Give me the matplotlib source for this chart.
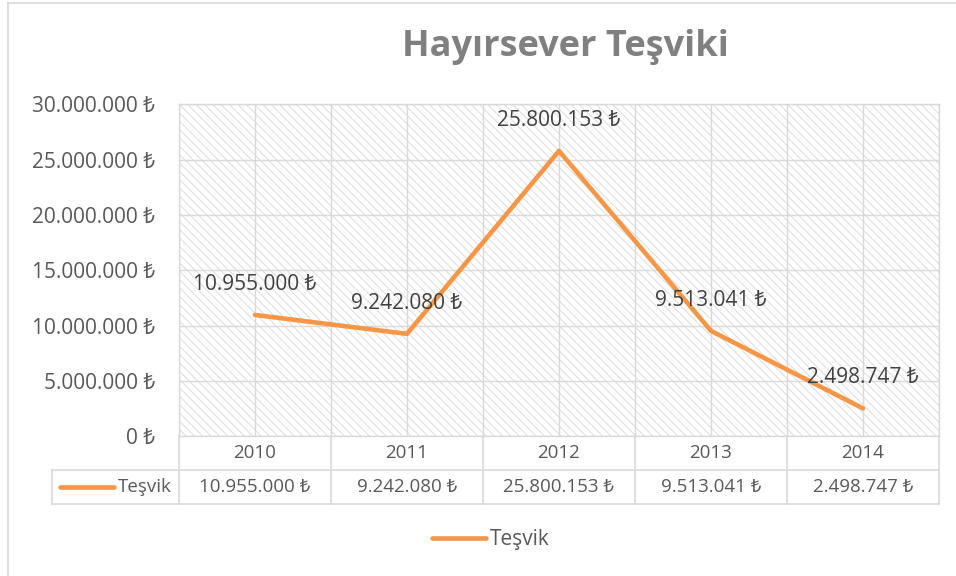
import matplotlib
matplotlib.use('Agg')
import matplotlib.pyplot as plt
import matplotlib.transforms as mtransforms
from matplotlib.patches import Rectangle
from matplotlib.lines import Line2D
import numpy as np

# ---- data ----
years = ['2010', '2011', '2012', '2013', '2014']
values = [10955000, 9242080, 25800153, 9513041, 2498747]
series_name = 'Teşvik'
title = 'Hayırsever Teşviki'
y_ticks = [0, 5000000, 10000000, 15000000, 20000000, 25000000, 30000000]


def tl(v):
    return f'{int(v):,}'.replace(',', '.') + ' ₺'


plt.rcParams['font.family'] = ['Open Sans', 'Noto Sans', 'DejaVu Sans']
plt.rcParams['hatch.linewidth'] = 0.7

W, H = 956, 576
fig = plt.figure(figsize=(W / 100, H / 100), dpi=100)
L, R, T, B = 179, 939, 104.5, 436
ax = fig.add_axes([L / W, 1 - B / H, (R - L) / W, (B - T) / H])

GRID = '#d9d9d9'
ORANGE = '#F79646'

ax.set_facecolor('none')
hatch = Rectangle((0, 0), 1, 1, transform=ax.transAxes, facecolor='white',
                  edgecolor='#dcdcdc', hatch='\\' * 4, lw=0, zorder=0.1)
ax.add_patch(hatch)

x = np.arange(len(years))
line, = ax.plot(x, values, color=ORANGE, lw=3.3, solid_capstyle='round',
                zorder=3, label=series_name)

for xi, v in zip(x, values):
    ax.annotate(tl(v), (xi, v), xytext=(0, 22), textcoords='offset points',
                ha='center', va='center', fontsize=15, color='#404040', zorder=4)

ax.set_xlim(-0.5, len(years) - 0.5)
ax.set_ylim(0, 30000000)
ax.set_xticks(np.arange(-0.5, len(years) - 0.4, 0.5))
ax.set_xticklabels([])
ax.set_yticks(y_ticks)
ax.set_yticklabels([tl(v) for v in y_ticks])
ax.tick_params(axis='both', length=0)
ax.tick_params(axis='y', pad=17, labelsize=15, labelcolor='#595959')
ax.set_axisbelow(True)
ax.grid(True, color=GRID, lw=1)
for s in ax.spines.values():
    s.set_color(GRID)
    s.set_linewidth(1)

# ---- data table ----
blend = mtransforms.blended_transform_factory(ax.transData, ax.transAxes)
hgt = B - T
def afy(ypx):
    return (B - ypx) / hgt

y_row_mid1 = afy(453)
y_row_bot = afy(504)
y_row_mid2 = afy(487)

for k in range(len(years) + 1):
    ax.plot([k - 0.5, k - 0.5], [0, y_row_bot], transform=blend, color=GRID,
            lw=1.2, clip_on=False)
for i, (yr, v) in enumerate(zip(years, values)):
    ax.text(i, y_row_mid1, yr, transform=blend, ha='center', va='center',
            fontsize=13.5, color='#595959')
    ax.text(i, y_row_mid2, tl(v), transform=blend, ha='center', va='center',
            fontsize=13.5, color='#595959')

def fx(px):
    return px / W
def fy(py):
    return 1 - py / H

for yy in (470, 504):
    fig.add_artist(Line2D([fx(52), fx(R)], [fy(yy), fy(yy)], color=GRID, lw=1.2))
fig.add_artist(Line2D([fx(52), fx(52)], [fy(470), fy(504)], color=GRID, lw=1.2))
fig.add_artist(Line2D([fx(60), fx(114)], [fy(487), fy(487)], color=ORANGE,
                      lw=3.3, solid_capstyle='round'))
fig.text(fx(118), fy(487), series_name, ha='left', va='center', fontsize=13.5,
         color='#595959')

# ---- legend ----
leg = ax.legend(handles=[line], loc='center', bbox_to_anchor=(fx(491), fy(540)),
                bbox_transform=fig.transFigure, frameon=False, fontsize=15,
                handlelength=2.6, handletextpad=0.2, labelcolor='#595959')

# ---- title ----
fig.text(fx(565), fy(56), title, ha='center', va='baseline', fontsize=26,
         fontweight='bold', color='#808080')

# ---- outer chart border ----
fig.add_artist(Line2D([fx(8), 1], [fy(3), fy(3)], color=GRID, lw=1.2))
fig.add_artist(Line2D([fx(8), fx(8)], [fy(3), 0], color=GRID, lw=1.2))

fig.savefig('out.png', dpi=100)
